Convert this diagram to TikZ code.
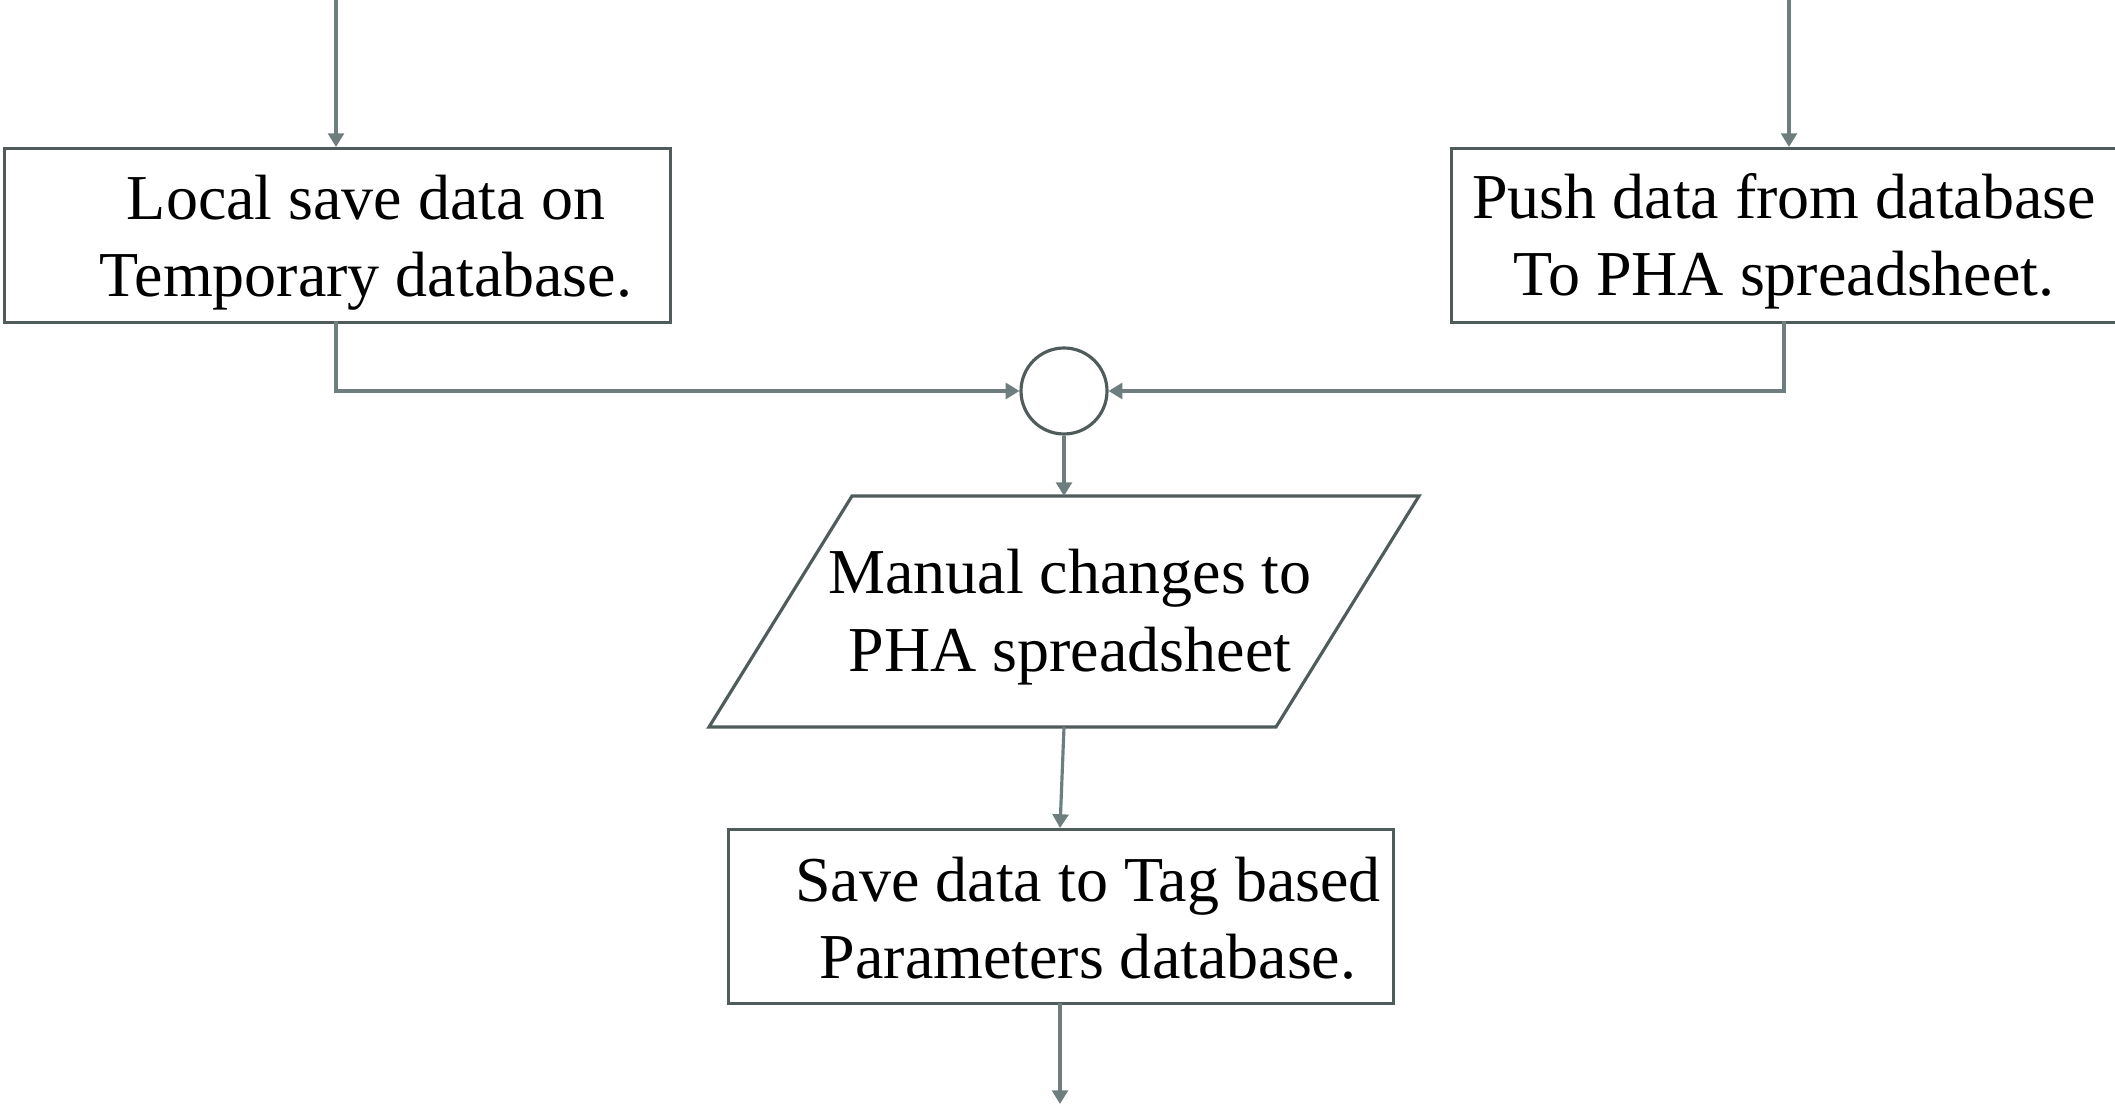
\documentclass[tikz,border=0pt]{standalone}
\usepackage{fontspec}
\setmainfont{Liberation Serif}
\usetikzlibrary{arrows.meta}
\definecolor{edgegray}{HTML}{6E7E7F}
\definecolor{framegray}{HTML}{505B5B}
\tikzset{
  conn/.style={draw=edgegray, line width=0.9pt, -{Triangle[length=3.9pt,width=4.5pt]}},
  frame/.style={draw=framegray, line width=0.9pt},
  label/.style={font=\fontsize{18.2}{22}\selectfont, align=center, inner sep=0pt},
}
\begin{document}
\begin{tikzpicture}[x=0.01cm,y=-0.01cm]
  \useasboundingbox (0,0) rectangle (2115,1104);
  \fill[white] (0,0) rectangle (2115,1104);

  % process boxes
  \node[frame, rectangle, minimum width=666*0.01cm, minimum height=174*0.01cm, anchor=north west] (local) at (3,147) {};
  \node[label] (localtxt) at (366,243) {Local save data on\\Temporary database.};

  \node[frame, rectangle, minimum width=668*0.01cm, minimum height=174*0.01cm, anchor=north west] (push) at (1450,147) {};
  \node[label] (pushtxt) at (1784,241) {Push data from database\\To PHA spreadsheet.};

  \node[frame, rectangle, minimum width=665*0.01cm, minimum height=174*0.01cm, anchor=north west] (save) at (727,828) {};
  \node[label] (savetxt) at (1088,918) {Save data to Tag based\\Parameters database.};

  % junction
  \node[frame, circle, minimum size=86*0.01cm, inner sep=0pt] (join) at (1064,391) {};

  % manual input parallelogram
  \draw[frame] (852,496) coordinate (mtl) -- (1419,496) coordinate (mtr)
    -- (1276,727) coordinate (mbr) -- (709,727) coordinate (mbl) -- cycle;
  \node[label] (manual) at (1070,617) {Manual changes to\\PHA spreadsheet};
  \coordinate (mtop) at (1064,496);
  \coordinate (mbot) at (1064,727);

  % free ends
  \coordinate (inL) at (336,0);
  \coordinate (inR) at (1789,0);
  \coordinate (outB) at (1060,1104);

  % connectors
  \draw[conn] (inL) -- (inL |- local.north);
  \draw[conn] (inR) -- (inR |- push.north);
  \draw[conn] (336,321) |- (join.west);
  \draw[conn] (1784,321) |- (join.east);
  \draw[conn] (join.south) -- (mtop);
  \draw[conn] (mbot) -- (1060,828);
  \draw[conn] (1060,1003) -- (outB);
\end{tikzpicture}
\end{document}
